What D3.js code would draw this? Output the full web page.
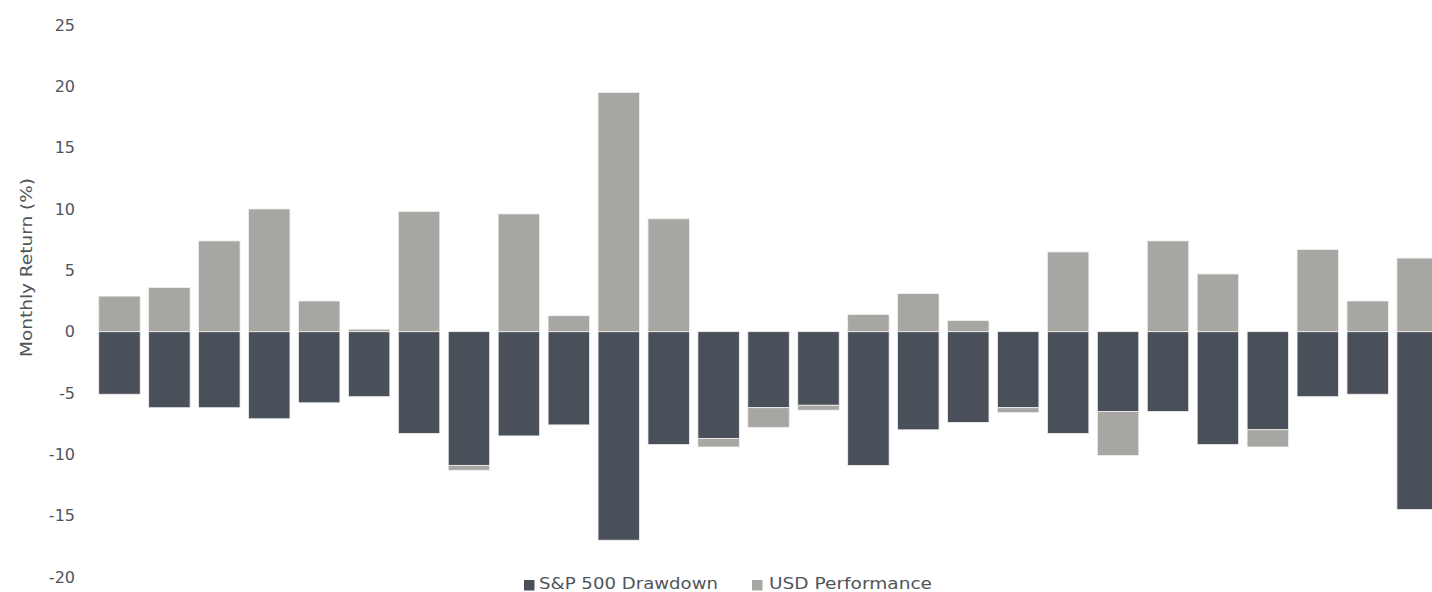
<!DOCTYPE html>
<html>
<head>
<meta charset="utf-8">
<script src="https://cdn.jsdelivr.net/npm/d3@7/dist/d3.min.js"></script>
<style>
  html, body { margin: 0; padding: 0; background: #ffffff; }
  svg { display: block; font-family: "DejaVu Sans", "Noto Sans", sans-serif; }
</style>
</head>
<body>
<svg id="chart" width="1432" height="592"></svg>
<script>
// ---- data ----
const categories = ["E1","E2","E3","E4","E5","E6","E7","E8","E9","E10","E11","E12","E13","E14",
                    "E15","E16","E17","E18","E19","E20","E21","E22","E23","E24","E25","E26","E27"];
const spDrawdown = [-5.1,-6.2,-6.2,-7.1,-5.8,-5.3,-8.3,-10.9,-8.5,-7.6,-17.0,-9.2,-8.7,-6.2,
                    -6.0,-10.9,-8.0,-7.4,-6.2,-8.3,-6.5,-6.5,-9.2,-8.0,-5.3,-5.1,-14.5];
const usdPerf    = [2.9,3.6,7.4,10.0,2.5,0.2,9.8,-0.4,9.6,1.3,19.5,9.2,-0.7,-1.6,
                    -0.4,1.4,3.1,0.9,-0.4,6.5,-3.6,7.4,4.7,-1.4,6.7,2.5,6.0];
const seriesNames = ["S&P 500 Drawdown", "USD Performance"];
const yTicks = [-20,-15,-10,-5,0,5,10,15,20,25];
const yLabel = "Monthly Return (%)";

// ---- setup ----
const svg = d3.select("#chart");
const colors = { "S&P 500 Drawdown": "#4a5059", "USD Performance": "#a7a6a2" };
const textColor = "#50555c";

const x = d3.scaleBand().domain(categories).range([94.5, 1442.6])
  .paddingInner(0.17).paddingOuter(0.085);
const y = d3.scaleLinear().domain([-20, 25]).range([577, 25]);

const rows = categories.map((c, i) => ({ cat: c, "S&P 500 Drawdown": spDrawdown[i], "USD Performance": usdPerf[i] }));
const stacked = d3.stack().keys(seriesNames).offset(d3.stackOffsetDiverging)(rows);

// y axis (labels only)
const yAxis = d3.axisLeft(y).tickValues(yTicks).tickSize(0).tickPadding(0)
  .tickFormat(d => String(d));
const gy = svg.append("g").attr("transform", "translate(75,0)").call(yAxis);
gy.select(".domain").remove();
gy.selectAll("text").attr("fill", textColor).attr("font-size", "16px")
  .attr("font-family", "\"DejaVu Sans\", sans-serif");

// bars
svg.append("g").selectAll("g").data(stacked).join("g")
  .attr("fill", d => colors[d.key])
  .selectAll("rect").data(d => d).join("rect")
  .attr("x", d => x(d.data.cat))
  .attr("width", x.bandwidth())
  .attr("y", d => y(Math.max(d[0], d[1])))
  .attr("height", d => Math.abs(y(d[0]) - y(d[1])))
  .attr("stroke", "#f0f0f0").attr("stroke-width", 0.8);

// y label
svg.append("text")
  .attr("transform", "translate(32,267.5) rotate(-90)")
  .attr("text-anchor", "middle")
  .attr("font-size", "16px").attr("fill", textColor)
  .attr("textLength", 179).attr("lengthAdjust", "spacingAndGlyphs")
  .text(yLabel);

// legend
const legendPos = [{ sx: 524, tx: 539, tw: 179 }, { sx: 752, tx: 769, tw: 163 }];
const lg = svg.append("g");
seriesNames.forEach((name, i) => {
  lg.append("rect").attr("x", legendPos[i].sx).attr("y", 580).attr("width", 10.5).attr("height", 10.5)
    .attr("fill", colors[name]);
  lg.append("text").attr("x", legendPos[i].tx).attr("y", 589)
    .attr("font-size", "15.5px").attr("fill", textColor)
    .attr("textLength", legendPos[i].tw).attr("lengthAdjust", "spacingAndGlyphs")
    .text(name);
});
</script>
</body>
</html>
